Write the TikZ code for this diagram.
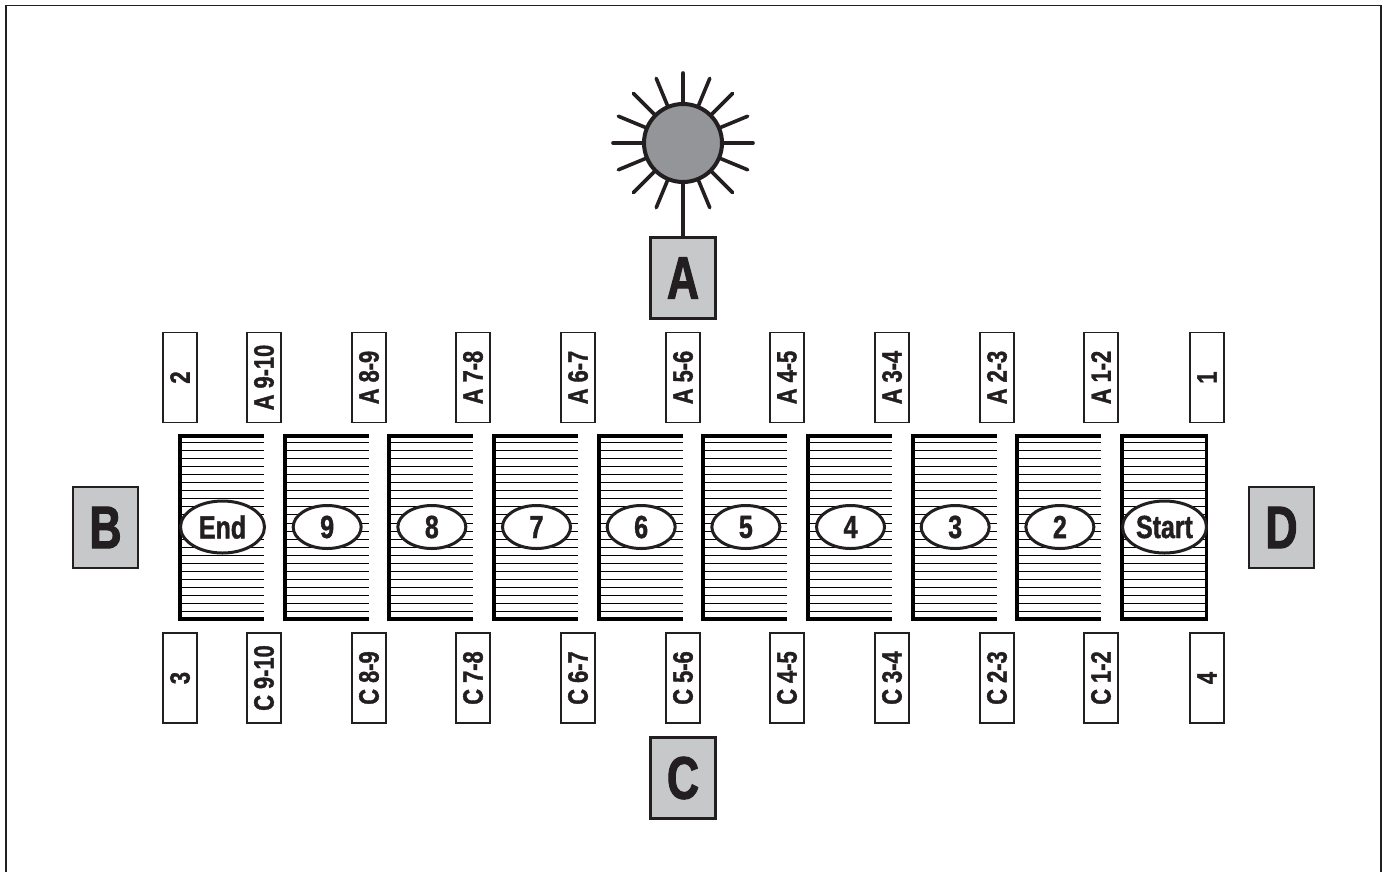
\documentclass[tikz,border=0pt]{standalone}
\usepackage{fontspec}
\usetikzlibrary{shapes.geometric}
\newfontfamily\lab[FakeStretch=0.78,FakeBold=1.3]{Liberation Sans}
\newfontfamily\labbig[FakeStretch=0.74,FakeBold=1.8]{Liberation Sans}
\definecolor{ink}{HTML}{231F20}
\definecolor{sungrey}{HTML}{939598}
\definecolor{boxgrey}{HTML}{C7C8CA}
\tikzset{
  bigbox/.style={draw=ink,line width=2.5pt,fill=boxgrey,minimum width=65pt,minimum height=81pt,inner sep=0pt,text=ink,font=\labbig\bfseries\fontsize{60}{60}\selectfont},
  tag/.style={draw=ink,line width=1.6pt,fill=white,inner sep=0pt,text=ink,rotate=90,font=\lab\bfseries\fontsize{28}{28}\selectfont,minimum width=90pt,minimum height=34pt},
  oval/.style={ellipse,draw=ink,line width=3pt,fill=white,inner sep=0pt,minimum width=68pt,minimum height=43pt,text=ink,font=\lab\bfseries\fontsize{32}{32}\selectfont},
  wideoval/.style={oval,minimum width=84pt,minimum height=52pt},
  rule/.style={black,line width=1.8pt},
  edge/.style={black,line width=4pt},
  ray/.style={ink,line width=3.6pt,line cap=round},
}
\begin{document}
\begin{tikzpicture}[x=1pt,y=-1pt]
\useasboundingbox (0,0) rectangle (1383,871);
% frame, cut off at the bottom
\draw[ink,line width=1.6pt] (6,875) -- (6,5.5) -- (1381,5.5) -- (1381,875);
% sun
\foreach \a in {0,22.5,...,337.5}{
  \draw[ray] (683,143) ++(\a:38) -- ++(\a:32);
}
\node[circle,draw=ink,line width=4pt,fill=sungrey,minimum size=78pt,inner sep=0pt] (sun) at (683,143) {};
\node[bigbox] (A) at (683,278) {A};
\node[bigbox] (B) at (105.5,527.5) {B};
\node[bigbox] (C) at (683,778) {C};
\node[bigbox] (D) at (1281.5,527.5) {D};
\draw[ink,line width=3.6pt] (sun.south) -- (A.north);
% bays
\foreach \k in {0,...,9}{
  \pgfmathsetmacro{\L}{round(180+104.67*\k)}
  \pgfmathsetmacro{\R}{\L+84}
  \foreach \j in {0,...,21}{
    \pgfmathsetmacro{\Y}{round(442+8.05*\j)+0.5}
    \draw[rule] (\L,\Y) -- (\R,\Y);
  }
  \draw[edge] (\R,435.5) -- (\L,435.5) -- (\L,619) -- (\R,619);
}
\draw[black,line width=3.2pt] (1206.5,433.5) -- (1206.5,621);
% ovals
\node[wideoval] (end) at (222.5,527) {End};
\foreach \n/\i in {9/1,8/2,7/3,6/4,5/5,4/6,3/7,2/8}{
  \pgfmathsetmacro{\X}{222.5+104.67*\i}
  \node[oval] (bay\n) at (\X,527) {\n};
}
\node[wideoval] (start) at (1164.5,527) {Start};
% tags
\node[tag] (t2) at (180,377.5) {2};
\node[tag] (t1) at (1207,377.5) {1};
\node[tag] (t3) at (180,678) {3};
\node[tag] (t4) at (1207,678) {4};
\foreach \s/\i in {9-10/0,8-9/1,7-8/2,6-7/3,5-6/4,4-5/5,3-4/6,2-3/7,1-2/8}{
  \pgfmathsetmacro{\X}{round(264+104.67*\i)}
  \node[tag] (a\i) at (\X,377.5) {A \s};
  \node[tag] (c\i) at (\X,678) {C \s};
}
\end{tikzpicture}
\end{document}
